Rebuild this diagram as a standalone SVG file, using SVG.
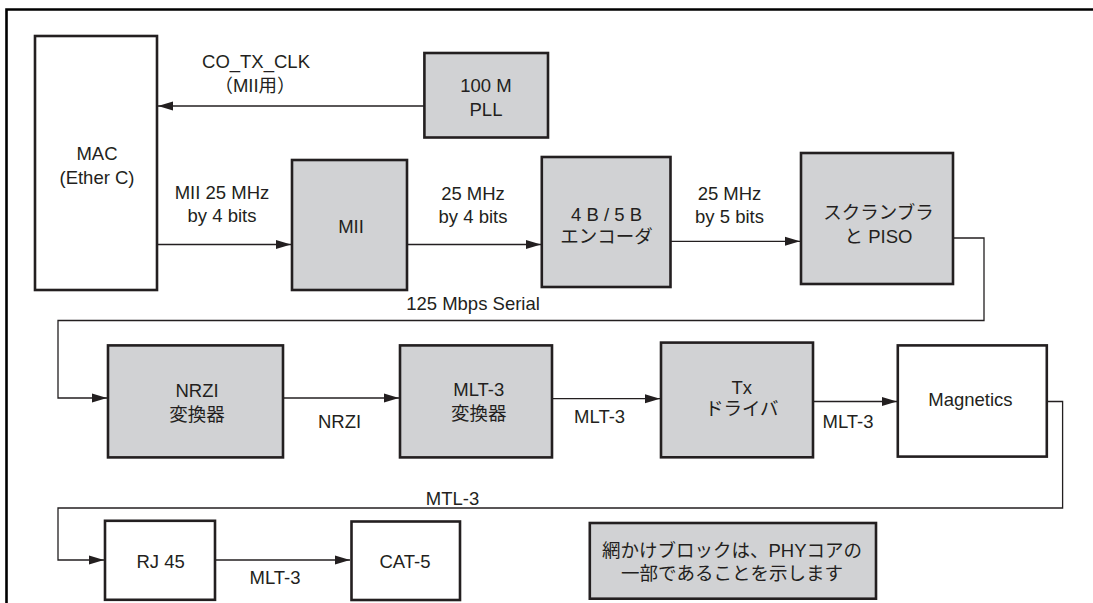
<svg xmlns="http://www.w3.org/2000/svg" width="1093" height="603" viewBox="0 0 1093 603">
<defs>
<style>
.box{stroke:#231f20;stroke-width:2.6;}
.sh{fill:#d1d2d4;}
.wh{fill:#ffffff;}
.t{font-family:"Liberation Sans","Noto Sans CJK JP",Arial,sans-serif;font-size:18.5px;fill:#231f20;text-anchor:middle;}
.c{fill:none;stroke:#231f20;stroke-width:1.3;}
</style>
<marker id="ah" markerUnits="userSpaceOnUse" markerWidth="15" markerHeight="10" refX="15" refY="5" orient="auto">
<path d="M0,0.5 L15,5 L0,9.5 z" fill="#231f20"/>
</marker>
</defs>
<rect width="1093" height="603" fill="#ffffff"/>
<path d="M6.5,603 V9.5 H1093" fill="none" stroke="#000" stroke-width="2.6"/>

<g id="connectors">
<path class="c" d="M424,106 H158" marker-end="url(#ah)"/>
<path class="c" d="M158,244.5 H291" marker-end="url(#ah)"/>
<path class="c" d="M408,244.5 H541" marker-end="url(#ah)"/>
<path class="c" d="M671,241.3 H800" marker-end="url(#ah)"/>
<path class="c" d="M954,238 H984 V320.5 H58 V398 H107" marker-end="url(#ah)"/>
<path class="c" d="M284,398 H399" marker-end="url(#ah)"/>
<path class="c" d="M553,398.7 H660" marker-end="url(#ah)"/>
<path class="c" d="M814,401.5 H897" marker-end="url(#ah)"/>
<path class="c" d="M1048,401.5 H1062.6 V508 H58 V560 H104" marker-end="url(#ah)"/>
<path class="c" d="M216,560 H350" marker-end="url(#ah)"/>
<text class="t" x="256" y="68">CO_TX_CLK</text>
<text class="t" x="255" y="92">（MII用）</text>
<text class="t" x="222" y="199">MII 25 MHz</text>
<text class="t" x="222" y="222">by 4 bits</text>
<text class="t" x="473" y="200">25 MHz</text>
<text class="t" x="473" y="223">by 4 bits</text>
<text class="t" x="729.5" y="200">25 MHz</text>
<text class="t" x="729.5" y="223">by 5 bits</text>
<text class="t" x="473" y="310">125 Mbps Serial</text>
<text class="t" x="339.5" y="428">NRZI</text>
<text class="t" x="599.6" y="422.6">MLT-3</text>
<text class="t" x="848" y="427.5">MLT-3</text>
<text class="t" x="452.5" y="504.6">MTL-3</text>
<text class="t" x="275" y="584">MLT-3</text>
</g>

<g id="mac">
<rect class="box wh" x="35" y="36" width="122" height="254"/>
<text class="t" x="97" y="160">MAC</text>
<text class="t" x="97" y="184">(Ether C)</text>
</g>
<g id="pll">
<rect class="box sh" x="424.4" y="53" width="123.6" height="84.5"/>
<text class="t" x="486" y="92">100 M</text>
<text class="t" x="486" y="116">PLL</text>
</g>
<g id="mii">
<rect class="box sh" x="292" y="160" width="115" height="130"/>
<text class="t" x="351" y="233">MII</text>
</g>
<g id="enc">
<rect class="box sh" x="541.8" y="157" width="128.7" height="130"/>
<text class="t" x="606.6" y="221">4 B / 5 B</text>
<text class="t" x="606.6" y="243">エンコーダ</text>
</g>
<g id="piso">
<rect class="box sh" x="801" y="153" width="152" height="131"/>
<text class="t" x="878.5" y="219">スクランブラ</text>
<text class="t" x="878.5" y="243">と PISO</text>
</g>
<g id="nrzi">
<rect class="box sh" x="108" y="345.4" width="175" height="112"/>
<text class="t" x="197" y="397">NRZI</text>
<text class="t" x="197" y="421">変換器</text>
</g>
<g id="mlt3">
<rect class="box sh" x="400" y="345.4" width="152" height="112"/>
<text class="t" x="478.8" y="396">MLT-3</text>
<text class="t" x="478.8" y="420">変換器</text>
</g>
<g id="tx">
<rect class="box sh" x="661" y="342.6" width="152" height="114.7"/>
<text class="t" x="741.7" y="393.5">Tx</text>
<text class="t" x="741.7" y="415">ドライバ</text>
</g>
<g id="magnetics">
<rect class="box wh" x="897.8" y="345.4" width="149" height="111.2"/>
<text class="t" x="970.4" y="405.7">Magnetics</text>
</g>
<g id="rj45">
<rect class="box wh" x="105" y="520.8" width="110" height="79"/>
<text class="t" x="160.6" y="567.8">RJ 45</text>
</g>
<g id="cat5">
<rect class="box wh" x="351.5" y="521.5" width="108.5" height="78.5"/>
<text class="t" x="405" y="567.8">CAT-5</text>
</g>
<g id="legend">
<rect class="box sh" x="589.8" y="523" width="286.2" height="75.7"/>
<text class="t" x="732" y="557">網かけブロックは、PHYコアの</text>
<text class="t" x="732" y="580">一部であることを示します</text>
</g>
</svg>
